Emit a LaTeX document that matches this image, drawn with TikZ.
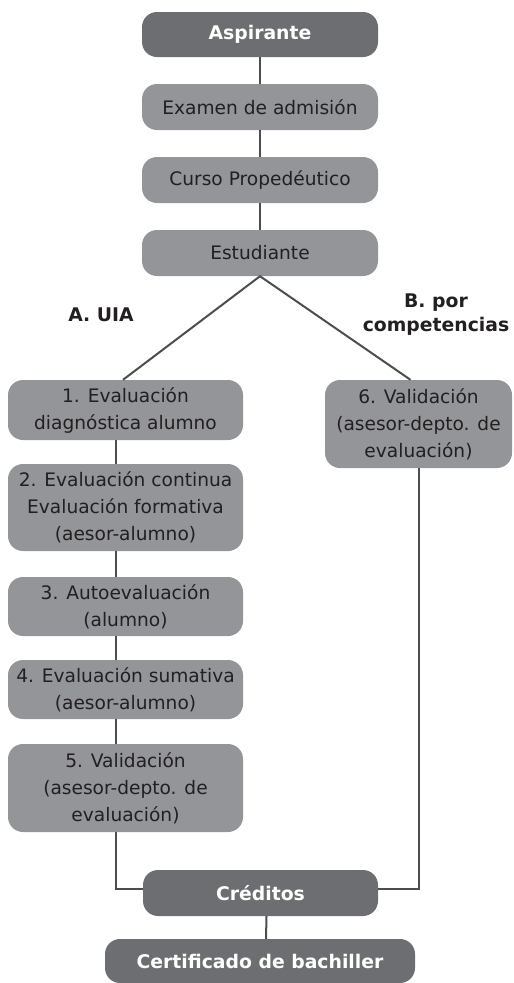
\documentclass[tikz,border=0pt]{standalone}
\usepackage{fontspec}
\setmainfont{DejaVu Sans}
\usetikzlibrary{shapes}
\RequirePackage{xcolor}
\definecolor{oscuro}{HTML}{6D6E71}
\definecolor{claro}{HTML}{939598}
\definecolor{trazo}{HTML}{4D4D4F}
\definecolor{letra}{HTML}{231F20}

\begin{document}
\begin{tikzpicture}[x=1pt, y=-1pt,
	caja/.style={fill=claro, rounded corners=15pt, text=letra, align=center,
		inner sep=0pt, font=\fontsize{18.6}{27}\selectfont},
	cajaosc/.style={caja, fill=oscuro, text=white, font=\fontsize{18.8}{27}\selectfont\bfseries},
	enlace/.style={draw=trazo, line width=2pt}]
	  \useasboundingbox (0,0) rectangle (514,983);
	  % tronco comun
	  \node[cajaosc, minimum width=236pt, minimum height=45pt] (asp) at (260,34.5) {Aspirante};
	  \node[caja, minimum width=236pt, minimum height=46pt] (exa) at (260,107) {Examen de admisión};
	  \node[caja, minimum width=236pt, minimum height=46pt] (cur) at (260,180) {Curso Propedéutico};
	  \node[caja, minimum width=236pt, minimum height=46pt] (est) at (260,253) {Estudiante};
	  % A. UIA
	  \node[caja, minimum width=235pt, minimum height=60pt] (ev1) at (125.5,410) {1. Evaluación\\diagnóstica alumno};
	  \node[caja, minimum width=235pt, minimum height=87pt] (ev2) at (125.5,507.5) {2. Evaluación continua\\Evaluación formativa\\(aesor-alumno)};
	  \node[caja, minimum width=235pt, minimum height=59pt] (ev3) at (125.5,606.5) {3. Autoevaluación\\(alumno)};
	  \node[caja, minimum width=235pt, minimum height=59pt] (ev4) at (125.5,689.5) {4. Evaluación sumativa\\(aesor-alumno)};
	  \node[caja, minimum width=235pt, minimum height=88pt] (ev5) at (125.5,788) {5. Validación\\(asesor-depto. de\\evaluación)};
	  % B. por competencias
	  \node[caja, minimum width=187pt, minimum height=88pt] (ev6) at (418.5,424) {6. Validación\\(asesor-depto. de\\evaluación)};
	  % salida
	  \node[cajaosc, minimum width=235pt, minimum height=46pt] (cre) at (260.5,893) {Créditos};
	  \node[cajaosc, minimum width=310pt, minimum height=44pt] (cer) at (260,961) {Certificado de bachiller};
	  % rotulos de las ramas
	  \node[font=\fontsize{18.8}{24}\selectfont\bfseries, text=letra] (ramaA) at (101,315) {A. UIA};
	  \node[font=\fontsize{18.8}{24}\selectfont\bfseries, text=letra, align=center] (ramaB) at (436,315) {B. por\\competencias};

	  \draw[enlace] (asp) -- (exa) -- (cur) -- (est);
	  \draw[enlace] ([xshift=-2.5pt]ev1.north) -- (est.south) -- ([xshift=-8pt]ev6.north);
	  \foreach \a/\b in {ev1/ev2, ev2/ev3, ev3/ev4, ev4/ev5}
	    \draw[enlace] ([xshift=-9.5pt]\a.south) -- ([xshift=-9.5pt]\b.north);
	  \draw[enlace] ([xshift=-9.5pt]ev5.south) |- ([yshift=4pt]cre.west);
	  \draw[enlace] (ev6.south) |- ([yshift=4pt]cre.east);
	  \draw[enlace] ([xshift=6pt]cre.south) -- ([xshift=6pt]cer.north);
	\end{tikzpicture}
\end{document}
